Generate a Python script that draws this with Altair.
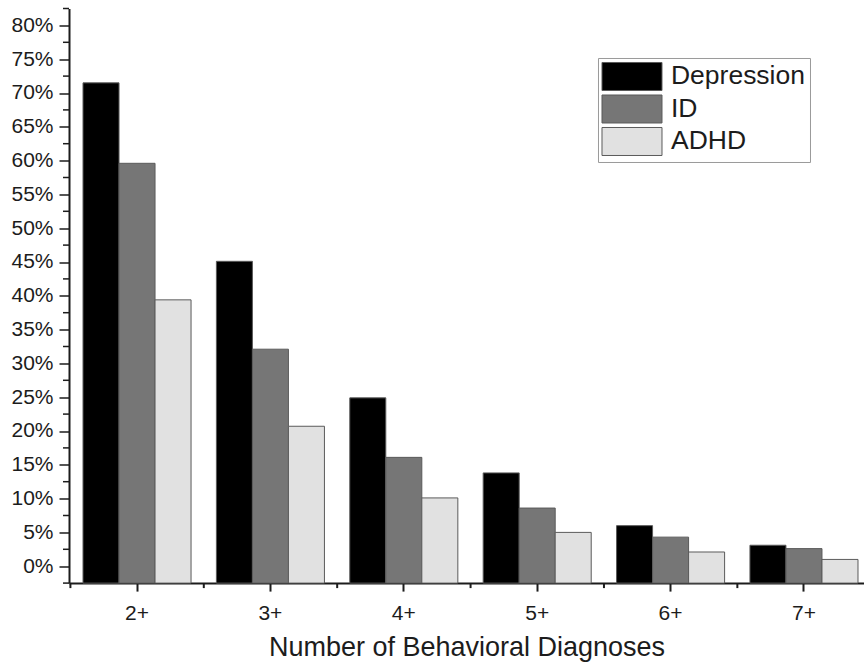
import altair as alt
import pandas as pd

# Share of patients with at least N behavioral diagnoses, by condition (%)
categories = ["2+", "3+", "4+", "5+", "6+", "7+"]
series = ["Depression", "ID", "ADHD"]
depression = [71.5, 45.1, 24.9, 13.8, 6.0, 3.1]
intellectual_disability = [59.6, 32.1, 16.1, 8.6, 4.3, 2.6]
adhd = [39.4, 20.7, 10.1, 5.0, 2.1, 1.0]

y_major_ticks = [0, 5, 10, 15, 20, 25, 30, 35, 40, 45, 50, 55, 60, 65, 70, 75, 80]
y_minor_ticks = [-2.5, 2.5, 7.5, 12.5, 17.5, 22.5, 27.5, 32.5, 37.5, 42.5,
                 47.5, 52.5, 57.5, 62.5, 67.5, 72.5, 77.5, 82.5]
axis_floor = -2.5
axis_ceiling = 82.5

colors = ["#000000", "#767676", "#e1e1e1"]
FONT = "Liberation Sans"
INK = "#1c1c1c"
PLOT_W = 795
PLOT_H = 574.6

rows = []
for name, values in zip(series, [depression, intellectual_disability, adhd]):
    for cat, v in zip(categories, values):
        rows.append({"group": cat, "series": name, "value": v})
df = pd.DataFrame(rows)

x_scale = alt.Scale(paddingInner=0.19, paddingOuter=0.075, align=0.7)
y_scale = alt.Scale(domain=[axis_floor, axis_ceiling], nice=False, zero=False)

x_axis = alt.Axis(
    title="Number of Behavioral Diagnoses",
    labelAngle=0,
    grid=False,
    tickSize=8,
    tickWidth=2,
    tickColor=INK,
    domainColor=INK,
    domainWidth=2,
    labelFontSize=21,
    labelFont=FONT,
    labelColor=INK,
    labelPadding=11,
    titleFont=FONT,
    titleFontSize=27,
    titleFontWeight="normal",
    titleColor=INK,
    titlePadding=11,
)

y_axis = alt.Axis(
    values=y_major_ticks,
    labelExpr="datum.value + '%'",
    labelOverlap=False,
    title=None,
    grid=False,
    tickSize=10,
    tickWidth=1.5,
    tickColor=INK,
    domainColor=INK,
    domainWidth=2,
    labelFontSize=21,
    labelFont=FONT,
    labelColor=INK,
    labelPadding=6,
)

# wide legend swatch: a 28px symbol stretched to the right
swatch = "M-1.036,-1H3.25V1H-1.036Z"

bars = alt.Chart(df).mark_bar(stroke="#5a5a5a", strokeWidth=1).encode(
    x=alt.X("group:N", sort=categories, scale=x_scale, axis=x_axis),
    xOffset=alt.XOffset("series:N", sort=series,
                        scale=alt.Scale(paddingInner=0, paddingOuter=0)),
    y=alt.Y("value:Q", scale=y_scale, axis=y_axis),
    y2=alt.datum(axis_floor),
    color=alt.Color(
        "series:N",
        sort=series,
        scale=alt.Scale(domain=series, range=colors),
        legend=alt.Legend(
            title=None,
            orient="none",
            legendX=529,
            legendY=49.5,
            symbolType=swatch,
            symbolSize=784,
            symbolStrokeColor="#5a5a5a",
            symbolStrokeWidth=1,
            symbolOpacity=1,
            labelFont=FONT,
            labelFontSize=26.5,
            labelColor=INK,
            labelOffset=40,
            rowPadding=-0.5,
            padding=4,
            strokeColor="#9a9a9a",
        ),
    ),
)

# short minor ticks on the value axis, halfway between labelled ticks
y_minor = alt.Chart(pd.DataFrame({"value": y_minor_ticks})).mark_rule(
    color=INK, strokeWidth=1.5
).encode(
    y=alt.Y("value:Q", scale=y_scale, axis=y_axis),
    x=alt.value(-6),
    x2=alt.value(0),
)

# short minor ticks on the category axis, between the groups
x_minor = alt.Chart(pd.DataFrame({"group": categories})).mark_rule(
    color=INK, strokeWidth=2, xOffset=-12.6
).encode(
    x=alt.X("group:N", sort=categories, scale=x_scale, bandPosition=0, axis=x_axis),
    y=alt.value(PLOT_H),
    y2=alt.value(PLOT_H + 5),
)

chart = alt.layer(bars, y_minor, x_minor).properties(
    width=PLOT_W,
    height=PLOT_H,
    background="white",
    padding={"left": 69, "top": 8.5, "right": 0, "bottom": 81},
    autosize=alt.AutoSizeParams(type="none"),
).configure_view(stroke=None).configure_axisY(labelOverlap=False)

chart.save("out.html", embed_options={"renderer": "svg", "actions": False})
